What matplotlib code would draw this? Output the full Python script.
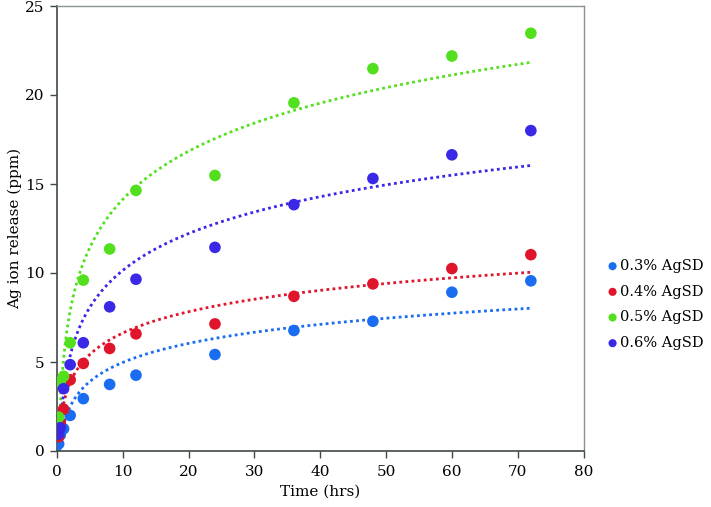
import numpy as np
import matplotlib
matplotlib.use("Agg")
import matplotlib.pyplot as plt

plt.rcParams['font.family'] = ['DejaVu Serif']

time_hrs = [0.25, 0.5, 1, 2, 4, 8, 12, 24, 36, 48, 60, 72]
labels = ["0.3% AgSD", "0.4% AgSD", "0.5% AgSD", "0.6% AgSD"]
ag_03 = [0.40, 0.90, 1.25, 2.00, 2.94, 3.74, 4.26, 5.42, 6.77, 7.29, 8.92, 9.56]
ag_04 = [0.80, 1.60, 2.35, 4.00, 4.92, 5.76, 6.58, 7.14, 8.69, 9.39, 10.25, 11.03]
ag_05 = [1.90, 3.90, 4.20, 6.08, 9.60, 11.35, 14.64, 15.48, 19.56, 21.48, 22.19, 23.47]
ag_06 = [0.95, 1.30, 3.50, 4.85, 6.08, 8.10, 9.65, 11.44, 13.84, 15.31, 16.64, 18.00]
series = [ag_03, ag_04, ag_05, ag_06]
colors = ["#1a6cf0", "#e0142a", "#52e01e", "#3b28e6"]

fig = plt.figure(figsize=(7.11, 5.07), dpi=100)
ax = fig.add_axes([57/711, 1-451/507, (583.5-57)/711, (451-6)/507])

t = np.array(time_hrs, dtype=float)
tt = np.linspace(t.min(), t.max(), 600)
handles = []
for y, c, lab in zip(series, colors, labels):
    y = np.array(y, dtype=float)
    a, b = np.polyfit(np.log(t), y, 1)
    ax.plot(tt, a*np.log(tt) + b, color=c, linestyle=(0, (1, 1.2)), linewidth=2.0, zorder=2)
    h = ax.scatter(t, y, s=70, color=c, edgecolors='none', zorder=3, label=lab)
    handles.append(h)

ax.set_xlim(0, 80)
ax.set_ylim(0, 25)
ax.set_xticks(range(0, 81, 10))
ax.set_yticks(range(0, 26, 5))
for s in ['top', 'right']:
    ax.spines[s].set_color('#8a9292')
    ax.spines[s].set_linewidth(1.0)
for s in ['left', 'bottom']:
    ax.spines[s].set_color('#404848')
    ax.spines[s].set_linewidth(1.2)
ax.tick_params(direction='out', length=5, width=1.0, color='#404848', labelsize=11, pad=4)
ax.tick_params(axis='x', pad=5)
ax.set_xlabel("Time (hrs)", fontsize=11, labelpad=4)
ax.set_ylabel("Ag ion release (ppm)", fontsize=11)
ax.yaxis.set_label_coords(-0.066, 0.5)

fig.legend(handles=handles, labels=labels, loc='upper left',
           bbox_to_anchor=(606/711, 1-259/507), frameon=False, fontsize=10.5,
           handletextpad=0.05, markerscale=0.7, labelspacing=0.8, handlelength=0.9,
           borderaxespad=0, borderpad=0)

fig.savefig("out.png", dpi=100)
